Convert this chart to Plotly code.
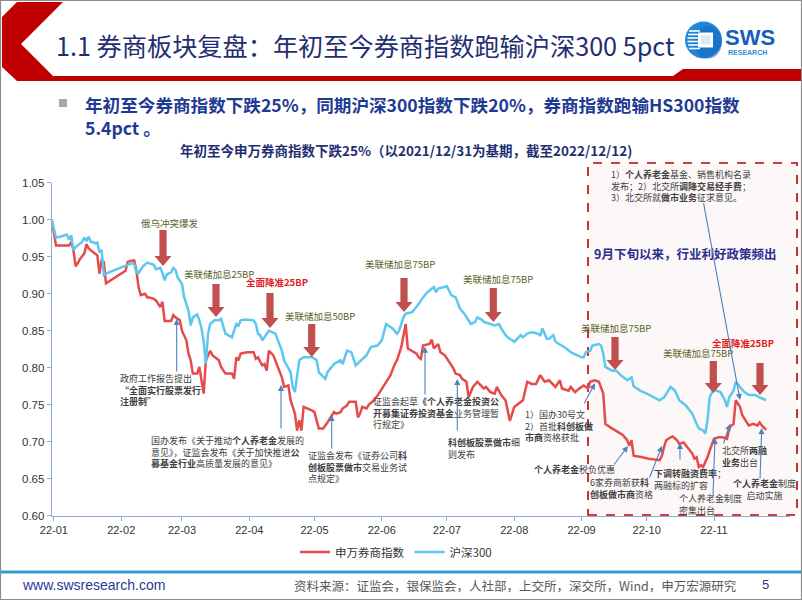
import plotly.graph_objects as go

W, H = 802, 602


def X(px):
    return px / W


def Y(py):
    return (H - py) / H


# ---------------- data ----------------
broker_dates = ["2021-12-31"] + ["2022-" + d for d in [
    "01-01", "01-02", "01-04", "01-06", "01-08", "01-09", "01-10", "01-11", "01-12", "01-13",
    "01-15", "01-16", "01-17", "01-20", "01-21", "01-22", "01-23", "01-24", "01-25", "02-03",
    "02-04", "02-06", "02-07", "02-08", "02-09", "02-10", "02-12", "02-13", "02-14", "02-16",
    "02-17", "02-19", "02-20", "02-21", "02-22", "02-24", "02-25", "02-26", "02-28", "03-01",
    "03-03", "03-04", "03-05", "03-06", "03-08", "03-09", "03-11", "03-12", "03-14", "03-15",
    "03-18", "03-19", "03-21", "03-24", "03-25", "03-26", "03-27", "03-28", "03-31", "04-03",
    "04-04", "04-05", "04-07", "04-08", "04-09", "04-10", "04-12", "04-14", "04-16", "04-17",
    "04-19", "04-20", "04-22", "04-23", "04-24", "04-25", "04-26", "04-30", "05-01", "05-03",
    "05-05", "05-07", "05-10", "05-11", "05-13", "05-14", "05-16", "05-17", "05-20", "05-21",
    "05-22", "05-23", "05-25", "05-26", "05-28", "05-30", "06-02", "06-05", "06-07", "06-08",
    "06-10", "06-12", "06-13", "06-15", "06-17", "06-18", "06-19", "06-20", "06-22", "06-23",
    "06-24", "06-25", "06-27", "06-28", "06-30", "07-02", "07-04", "07-05", "07-07", "07-08",
    "07-10", "07-11", "07-13", "07-15", "07-16", "07-18", "07-19", "07-21", "07-23", "07-24",
    "07-26", "07-28", "07-29", "07-30", "08-01", "08-03", "08-05", "08-07", "08-09", "08-11",
    "08-13", "08-15", "08-17", "08-20", "08-22", "08-23", "08-26", "08-27", "08-29", "08-31",
    "09-02", "09-04", "09-05", "09-07", "09-09", "09-11", "09-12", "09-15", "09-18", "09-20",
    "09-22", "09-23", "09-24", "09-25", "09-29", "10-02", "10-07", "10-08", "10-09", "10-10",
    "10-12", "10-13", "10-15", "10-16", "10-18", "10-20", "10-22", "10-23", "10-24", "10-25",
    "10-26", "10-27", "10-29", "10-30", "11-01", "11-03", "11-05", "11-07", "11-08", "11-09",
    "11-10", "11-11", "11-13", "11-14", "11-16", "11-17", "11-19", "11-21", "11-22", "11-23",
    "11-25"]]
broker_values = [
    1.000,
    0.981, 0.965, 0.965, 0.965, 0.965, 0.970, 0.959, 0.937, 0.941, 0.947,
    0.954, 0.967, 0.961, 0.954, 0.952, 0.927, 0.945, 0.943, 0.914, 0.931,
    0.943, 0.945, 0.945, 0.931, 0.909, 0.898, 0.900, 0.895, 0.895, 0.893,
    0.891, 0.882, 0.889, 0.863, 0.863, 0.863, 0.871, 0.868, 0.864, 0.850,
    0.837, 0.819, 0.810, 0.792, 0.792, 0.801, 0.765, 0.810, 0.823, 0.817,
    0.810, 0.801, 0.792, 0.792, 0.785, 0.814, 0.810, 0.819, 0.821, 0.821,
    0.812, 0.814, 0.803, 0.805, 0.796, 0.823, 0.817, 0.801, 0.787, 0.774,
    0.776, 0.756, 0.738, 0.715, 0.729, 0.715, 0.747, 0.742, 0.740, 0.718,
    0.718, 0.726, 0.740, 0.738, 0.740, 0.745, 0.749, 0.754, 0.754, 0.733,
    0.738, 0.747, 0.745, 0.750, 0.755, 0.762, 0.776, 0.790, 0.805, 0.810,
    0.828, 0.859, 0.826, 0.823, 0.819, 0.814, 0.812, 0.830, 0.831, 0.832,
    0.838, 0.826, 0.832, 0.821, 0.817, 0.808, 0.799, 0.792, 0.790, 0.785,
    0.781, 0.760, 0.774, 0.781, 0.778, 0.772, 0.774, 0.767, 0.765, 0.774,
    0.763, 0.756, 0.742, 0.728, 0.747, 0.751, 0.756, 0.781, 0.778, 0.778,
    0.790, 0.781, 0.783, 0.774, 0.783, 0.772, 0.769, 0.774, 0.767, 0.772,
    0.776, 0.772, 0.781, 0.783, 0.781, 0.765, 0.724, 0.718, 0.713, 0.709,
    0.702, 0.695, 0.702, 0.681, 0.679, 0.677, 0.675, 0.681, 0.693, 0.702,
    0.706, 0.707, 0.702, 0.697, 0.699, 0.691, 0.684, 0.677, 0.679, 0.666,
    0.668, 0.666, 0.679, 0.688, 0.704, 0.706, 0.706, 0.704, 0.718, 0.722,
    0.724, 0.756, 0.747, 0.736, 0.726, 0.722, 0.724, 0.722, 0.726, 0.722,
    0.716]

hs300_dates = ["2021-12-31"] + ["2022-" + d for d in [
    "01-02", "01-04", "01-07", "01-08", "01-09", "01-10", "01-11", "01-14", "01-15", "01-16",
    "01-17", "01-18", "01-19", "01-20", "01-21", "01-22", "01-23", "01-24", "01-25", "02-03",
    "02-06", "02-07", "02-08", "02-09", "02-11", "02-13", "02-16", "02-17", "02-19", "02-20",
    "02-21", "02-22", "02-23", "02-24", "02-25", "02-26", "02-27", "03-01", "03-02", "03-04",
    "03-05", "03-06", "03-08", "03-09", "03-10", "03-11", "03-12", "03-13", "03-14", "03-16",
    "03-18", "03-19", "03-21", "03-24", "03-26", "03-27", "03-28", "03-30", "04-03", "04-04",
    "04-05", "04-06", "04-07", "04-09", "04-10", "04-13", "04-14", "04-16", "04-17", "04-20",
    "04-21", "04-22", "04-24", "04-26", "04-30", "05-02", "05-03", "05-06", "05-07", "05-10",
    "05-13", "05-14", "05-16", "05-18", "05-20", "05-23", "05-25", "05-27", "05-30", "06-01",
    "06-03", "06-05", "06-06", "06-08", "06-09", "06-11", "06-12", "06-15", "06-18", "06-20",
    "06-22", "06-25", "06-26", "06-27", "06-29", "07-01", "07-02", "07-03", "07-05", "07-07",
    "07-09", "07-11", "07-12", "07-14", "07-15", "07-17", "07-18", "07-21", "07-23", "07-25",
    "07-26", "07-28", "07-29", "07-31", "08-01", "08-04", "08-05", "08-07", "08-09", "08-11",
    "08-13", "08-14", "08-16", "08-17", "08-19", "08-20", "08-23", "08-25", "08-27", "08-30",
    "09-01", "09-02", "09-03", "09-05", "09-06", "09-09", "09-10", "09-11", "09-12", "09-15",
    "09-17", "09-19", "09-22", "09-23", "09-24", "09-25", "09-28", "10-01", "10-04", "10-07",
    "10-09", "10-10", "10-12", "10-14", "10-16", "10-19", "10-21", "10-22", "10-24", "10-25",
    "10-27", "10-28", "10-29", "10-30", "11-01", "11-02", "11-04", "11-06", "11-07", "11-08",
    "11-10", "11-11", "11-13", "11-15", "11-17", "11-20", "11-22", "11-25"]]
hs300_values = [
    1.000,
    0.976, 0.977, 0.980, 0.973, 0.979, 0.959, 0.963, 0.970, 0.976, 0.971,
    0.977, 0.970, 0.970, 0.968, 0.969, 0.956, 0.959, 0.925, 0.927, 0.938,
    0.941, 0.940, 0.929, 0.928, 0.937, 0.942, 0.939, 0.933, 0.935, 0.928,
    0.918, 0.926, 0.928, 0.929, 0.935, 0.932, 0.922, 0.913, 0.895, 0.877,
    0.857, 0.868, 0.872, 0.864, 0.853, 0.835, 0.805, 0.846, 0.859, 0.864,
    0.864, 0.866, 0.846, 0.841, 0.859, 0.857, 0.864, 0.865, 0.864, 0.859,
    0.846, 0.844, 0.837, 0.846, 0.850, 0.846, 0.839, 0.823, 0.810, 0.794,
    0.774, 0.767, 0.810, 0.814, 0.814, 0.810, 0.794, 0.785, 0.794, 0.805,
    0.810, 0.805, 0.823, 0.821, 0.803, 0.812, 0.817, 0.828, 0.830, 0.837,
    0.859, 0.855, 0.853, 0.846, 0.850, 0.868, 0.873, 0.875, 0.886, 0.895,
    0.902, 0.909, 0.902, 0.907, 0.909, 0.910, 0.904, 0.898, 0.895, 0.880,
    0.873, 0.864, 0.859, 0.862, 0.868, 0.865, 0.862, 0.859, 0.857, 0.859,
    0.853, 0.844, 0.841, 0.837, 0.835, 0.844, 0.841, 0.846, 0.848, 0.847,
    0.844, 0.853, 0.839, 0.839, 0.844, 0.835, 0.830, 0.826, 0.821, 0.817,
    0.814, 0.814, 0.821, 0.823, 0.830, 0.832, 0.830, 0.819, 0.801, 0.796,
    0.796, 0.790, 0.783, 0.785, 0.787, 0.775, 0.769, 0.765, 0.760, 0.756,
    0.760, 0.765, 0.774, 0.769, 0.756, 0.749, 0.742, 0.738, 0.724, 0.718,
    0.715, 0.711, 0.729, 0.760, 0.772, 0.769, 0.767, 0.756, 0.747, 0.760,
    0.769, 0.781, 0.774, 0.767, 0.763, 0.763, 0.760, 0.756]

month_ticks = ["2022-01-01", "2022-02-01", "2022-03-01", "2022-04-01", "2022-05-01", "2022-06-01",
               "2022-07-01", "2022-08-01", "2022-09-01", "2022-10-01", "2022-11-01"]
month_labels = ["22-01", "22-02", "22-03", "22-04", "22-05", "22-06",
                "22-07", "22-08", "22-09", "22-10", "22-11"]
y_ticks = [0.60, 0.65, 0.70, 0.75, 0.80, 0.85, 0.90, 0.95, 1.00, 1.05]
y_labels = ["0.60", "0.65", "0.70", "0.75", "0.80", "0.85", "0.90", "0.95", "1.00", "1.05"]

series_names = ["申万券商指数", "沪深300"]

# ---------------- styles ----------------
RED_LINE = "#E64B4B"
BLUE_LINE = "#5CC8F0"
AXIS = "#8FAADC"
NAVY = "#1F3A93"
TITLE_NAVY = "#1F2F72"
OLIVE = "#56662A"
EV_RED = "#E0201F"
ARROW_RED = "#C0504D"
PTR = "#4F81BD"
GRAY_TXT = "#404040"
CJK = "Noto Sans CJK SC, Liberation Sans, sans-serif"
LAT = "Liberation Sans, Noto Sans CJK SC, sans-serif"

fig = go.Figure()
fig.add_trace(go.Scatter(x=broker_dates, y=broker_values, mode="lines", name=series_names[0],
                         line=dict(color=RED_LINE, width=2.5)))
fig.add_trace(go.Scatter(x=hs300_dates, y=hs300_values, mode="lines", name=series_names[1],
                         line=dict(color=BLUE_LINE, width=2.5)))

shapes = []
annotations = []


def poly(points, color, layer="above"):
    path = "M " + " L ".join("%.5f %.5f" % (X(px), Y(py)) for px, py in points) + " Z"
    shapes.append(dict(type="path", xref="paper", yref="paper", path=path,
                       fillcolor=color, line=dict(width=0), layer=layer))


def text(px, py, s, size=9, color=GRAY_TXT, anchor="left", family=CJK, align=None):
    annotations.append(dict(xref="paper", yref="paper", x=X(px), y=Y(py), text=s,
                            showarrow=False, xanchor=anchor, yanchor="middle",
                            align=align or anchor, borderpad=0,
                            font=dict(family=family, size=size, color=color)))


def big_arrow(cx, top, tip):
    sw, hw, hl = 3.6, 8.5, 10
    poly([(cx - sw, top), (cx + sw, top), (cx + sw, tip - hl), (cx + hw, tip - hl),
          (cx, tip), (cx - hw, tip - hl), (cx - sw, tip - hl)], ARROW_RED)


def pointer(x0, y0, x1, y1):
    annotations.append(dict(xref="paper", yref="paper", x=X(x1), y=Y(y1), text="",
                            showarrow=True, axref="pixel", ayref="pixel",
                            ax=x0 - x1, ay=y0 - y1, arrowhead=2, arrowsize=1.1,
                            arrowwidth=1.1, arrowcolor=PTR, standoff=0))


# ---------------- slide frame / header ----------------
shapes.append(dict(type="rect", xref="paper", yref="paper", x0=X(588), x1=X(797), y0=Y(515), y1=Y(163),
                   line=dict(color="#C00000", width=1.6, dash="dash"),
                   fillcolor="rgba(235,190,190,0.10)", layer="below"))
poly([(17, 2), (63, 2), (21, 44), (53, 76), (673, 76), (683, 69), (802, 69), (802, 81),
      (17, 81), (2, 67), (2, 17)], "#C00000")
shapes.append(dict(type="rect", xref="paper", yref="paper", x0=X(0.5), x1=X(801.5), y0=Y(599.5), y1=Y(0.5),
                   line=dict(color="#8C8C8C", width=1.2), fillcolor="rgba(0,0,0,0)"))
# footer rule
shapes.append(dict(type="line", xref="paper", yref="paper", x0=X(1), x1=X(801), y0=Y(572), y1=Y(572),
                   line=dict(color="#2E9FCB", width=3)))
# bullet square
shapes.append(dict(type="rect", xref="paper", yref="paper", x0=X(59), x1=X(67), y0=Y(107), y1=Y(99),
                   line=dict(width=0), fillcolor="#A6A6A6"))

# logo
shapes.append(dict(type="circle", xref="paper", yref="paper", x0=X(685), x1=X(722), y0=Y(58.5), y1=Y(21.5),
                   line=dict(width=0), fillcolor="#1E88D8"))
shapes.append(dict(type="circle", xref="paper", yref="paper", x0=X(694), x1=X(722), y0=Y(58.5), y1=Y(26),
                   line=dict(width=0), fillcolor="#1565C0", opacity=0.55))
for k, yy in enumerate([31, 34.5, 38, 41.5, 45, 48.5]):
    shapes.append(dict(type="line", xref="paper", yref="paper", x0=X(687 + abs(k - 2.5) * 0.8), x1=X(700),
                       y0=Y(yy), y1=Y(yy), line=dict(color="white", width=1.6)))
shapes.append(dict(type="rect", xref="paper", yref="paper", x0=X(698), x1=X(713), y0=Y(47.5), y1=Y(32.5),
                   line=dict(width=0), fillcolor="white"))
shapes.append(dict(type="rect", xref="paper", yref="paper", x0=X(701), x1=X(710.5), y0=Y(44.5), y1=Y(35),
                   line=dict(width=0), fillcolor="#D6ECFA"))
text(724, 38, "<b>SWS</b>", size=22, color="#1660B8", family=LAT)
text(726.5, 53, "<b>RESEARCH</b>", size=7, color="#2A8FD6", family=LAT)

# titles
text(55, 45, "1.1 券商板块复盘：年初至今券商指数跑输沪深300 5pct", size=25.2, color=TITLE_NAVY)
text(84, 116.5, "<b>年初至今券商指数下跌25%，同期沪深300指数下跌20%，券商指数跑输HS300指数</b>"
     "<br><b>5.4pct 。</b>", size=17.6, color=NAVY, family=CJK)
text(406, 150, "<b>年初至今申万券商指数下跌25%（以2021/12/31为基期，截至2022/12/12)</b>",
     size=13.5, color=TITLE_NAVY, anchor="center")

# footer
text(21, 585, "www.swsresearch.com", size=14, color=NAVY, family=LAT)
text(738, 585, "资料来源：证监会，银保监会，人社部，上交所，深交所，Wind，申万宏源研究",
     size=12.5, color="#595959", anchor="right")
text(765, 584, "5", size=13, color=NAVY, anchor="center", family=LAT)

# ---------------- event labels + red arrows ----------------
events = [
    (170, 222, "俄乌冲突爆发", OLIVE, 163, 230, 266),
    (219, 273, "美联储加息25BP", OLIVE, 216, 284, 317),
    (276.5, 281, "<b>全面降准25BP</b>", EV_RED, 270, 293, 328),
    (319.5, 315, "美联储加息50BP", OLIVE, 311.7, 324, 357),
    (400, 263, "美联储加息75BP", OLIVE, 404, 278, 312),
    (498.5, 278, "美联储加息75BP", OLIVE, 493.3, 288, 322),
    (616, 327, "美联储加息75BP", OLIVE, 615, 337, 370),
    (697.5, 352, "美联储加息75BP", OLIVE, 713.3, 361, 393),
    (742.5, 342, "<b>全面降准25BP</b>", EV_RED, 760, 363, 395),
]
for lx, ly, s, c, ax_, top, tip in events:
    text(lx, ly + 1, s, size=9.5, color=c, anchor="center")
    big_arrow(ax_, top, tip)

text(685, 253, "<b>9月下旬以来，行业利好政策频出</b>", size=12.5, color="#2B2D8F", anchor="center")

# ---------------- policy notes (multi-line blocks) ----------------
notes = [
    (119, 390, "left", ["政府工作报告提出", "“<b>全面实行股票发行</b>", "<b>注册制</b>”"]),
    (150, 452, "left", ["国办发布《关于推动<b>个人养老金</b>发展的",
                        "意见》，证监会发布《关于加快推进<b>公</b>",
                        "<b>募基金行业</b>高质量发展的意见》"]),
    (307, 467, "left", ["证监会发布《证券公司<b>科</b>", "<b>创板股票做市</b>交易业务试", "点规定》"]),
    (372, 413.5, "left", ["证监会起草<b>《个人养老金投资公</b>", "<b>开募集证券投资基金</b>业务管理暂",
                          "行规定》"]),
    (447, 448, "left", ["<b>科创板股票做市</b>细", "则发布"]),
    (524, 425.5, "left", ["1）国办30号文", "2）首批<b>科创板做</b>", "<b>市商</b>资格获批"]),
    (533, 469, "left", ["<b>个人养老金</b>税负优惠"]),
    (589, 488, "left", ["6家券商新获<b>科</b>", "<b>创板做市商</b>资格"]),
    (653, 479.5, "left", ["<b>下调转融资费率</b>；", "两融标的扩容"]),
    (678, 504.5, "left", ["个人养老金制度", "密集出台"]),
    (721, 456.5, "left", ["北交所<b>两融</b>", "<b>业务</b>出台"]),
    (764.5, 489, "center", ["<b>个人养老金</b>制度", "启动实施"]),
    (610, 186.5, "left", ["1）<b>个人养老金</b>基金、销售机构名录",
                          "发布；2）北交所<b>调降交易经手费</b>；",
                          "3）北交所就<b>做市业务</b>征求意见。"]),
]
for px, py, anchor, lines in notes:
    text(px, py, "<br>".join(lines), size=9, color=GRAY_TXT, anchor=anchor)

pointers = [
    (176.7, 373, 176.7, 319),
    (281, 430, 281, 385),
    (331.7, 450, 331.7, 415),
    (425, 396, 425, 346.7),
    (457.3, 432, 457.3, 379),
    (583.3, 405, 595, 383.3),
    (613, 466, 628, 446),
    (649, 479, 662, 446),
    (680, 461, 680, 443),
    (713, 496, 715, 438),
    (723, 445, 730, 424),
    (760, 480, 761.7, 428),
    (703.3, 201.7, 740, 400),
]
for p in pointers:
    pointer(*p)

fig.update_layout(
    width=W, height=H, autosize=False,
    margin=dict(l=0, r=0, t=0, b=0, pad=0, autoexpand=False),
    paper_bgcolor="white", plot_bgcolor="rgba(0,0,0,0)",
    font=dict(family=CJK, color="#333333"),
    xaxis=dict(domain=[X(51.7), X(790)], type="date", range=["2021-12-31", "2022-12-06"],
               tickvals=month_ticks, ticktext=month_labels, showline=True, linecolor=AXIS,
               linewidth=1, ticks="outside", ticklen=4, tickcolor=AXIS, showgrid=False,
               zeroline=False, automargin=False,
               tickfont=dict(family=LAT, size=11, color="#333333")),
    yaxis=dict(domain=[Y(515.7), Y(182.7)], range=[0.60, 1.05], tickvals=y_ticks, ticktext=y_labels,
               showline=True, linecolor=AXIS, linewidth=1, ticks="outside", ticklen=4,
               tickcolor=AXIS, showgrid=False, zeroline=False, automargin=False,
               tickfont=dict(family=LAT, size=11.5, color="#333333")),
    showlegend=True,
    legend=dict(orientation="h", x=X(396), xanchor="center", y=Y(552), yanchor="middle",
                font=dict(family=CJK, size=11.5, color="#333333"), bgcolor="rgba(0,0,0,0)",
                itemwidth=30, tracegroupgap=0),
    shapes=shapes,
    annotations=annotations,
)

fig.write_html(
    "out.html",
    config={"displayModeBar": False},
    post_script=(
        "document.documentElement.style.margin='0px';"
        "document.body.style.margin='0px';document.body.style.padding='0px';"
        "document.body.style.overflow='hidden';"
        "var gd=document.getElementById('{plot_id}');"
        "gd.style.position='absolute';gd.style.left='0px';gd.style.top='0px';"
    ),
)
